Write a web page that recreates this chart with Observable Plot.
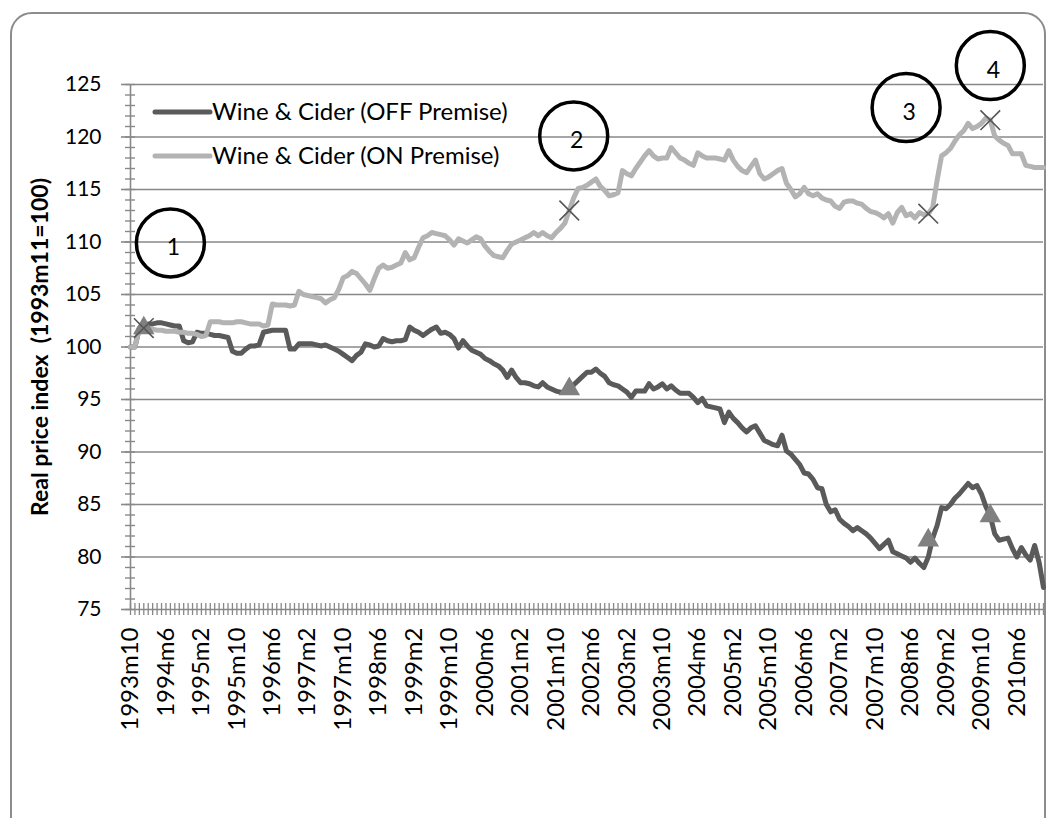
<!DOCTYPE html>
<html>
<head>
<meta charset="utf-8">
<script src="https://cdn.jsdelivr.net/npm/d3@7"></script>
<script src="https://cdn.jsdelivr.net/npm/@observablehq/plot@0.6"></script>
<style>
  html, body { margin: 0; padding: 0; background: #fff; }
  #wrap { position: relative; width: 1053px; height: 818px; overflow: hidden; font-family: Lato, "Open Sans", sans-serif; }
  #frame { position: absolute; left: 10px; top: 12px; width: 1036px; height: 830px; border: 2px solid #8c8c8c; border-radius: 22px; box-sizing: border-box; }
  #legend { position: absolute; left: 150px; top: 96px; }
  #chart { position: absolute; left: 0; top: 0; }
</style>
</head>
<body>
<div id="wrap">
  <div id="frame"></div>
  <div id="chart"></div>
  <svg id="legend" width="420" height="80"></svg>
</div>
<script>
// ---- data ----
const startYear = 1993, startMonth = 10; // first category 1993m10
const seriesNames = ["Wine & Cider (OFF Premise)", "Wine & Cider (ON Premise)"];

const offPremise = [
  100.0,100.0,101.8,101.8,102.2,102.2,102.3,102.3,102.2,102.1,
  102.0,102.0,100.6,100.4,100.5,101.4,101.3,101.3,101.2,101.1,
  101.1,101.0,100.9,99.6,99.4,99.4,99.8,100.1,100.1,100.2,
  101.4,101.5,101.6,101.6,101.6,101.6,99.8,99.8,100.3,100.3,
  100.3,100.3,100.2,100.1,100.2,100.0,99.8,99.6,99.3,99.0,
  98.7,99.2,99.5,100.3,100.2,100.0,100.1,100.8,100.6,100.5,
  100.6,100.6,100.7,101.9,101.6,101.4,101.1,101.4,101.7,101.9,
  101.3,101.4,101.2,100.8,99.9,100.6,100.1,99.7,99.5,99.3,
  98.9,98.7,98.4,98.2,97.8,97.1,97.8,97.1,96.6,96.6,
  96.5,96.3,96.2,96.6,96.2,96.0,95.8,95.7,95.7,95.8,
  96.4,96.8,97.2,97.6,97.6,97.9,97.5,97.2,96.6,96.4,
  96.3,96.0,95.7,95.2,95.8,95.8,95.8,96.5,96.0,96.2,
  96.5,96.0,96.3,95.9,95.6,95.6,95.6,95.2,94.7,95.1,
  94.4,94.3,94.2,94.1,92.8,93.8,93.2,92.8,92.3,91.9,
  92.3,92.5,91.8,91.1,90.9,90.7,90.6,91.6,90.1,89.8,
  89.3,88.8,88.0,87.9,87.4,86.6,86.5,85.0,84.3,84.5,
  83.6,83.2,82.9,82.5,82.8,82.5,82.2,81.8,81.3,80.8,
  81.2,81.6,80.5,80.3,80.1,79.9,79.5,79.9,79.4,79.0,
  80.0,81.8,83.0,84.7,84.6,85.0,85.6,86.0,86.5,87.0,
  86.6,86.8,86.0,84.8,83.9,82.2,81.6,81.7,81.8,80.8,
  80.0,80.9,80.2,79.7,81.1,79.5,77.1
];

const onPremise = [
  100.0,100.0,101.8,101.8,101.7,101.7,101.6,101.6,101.5,101.5,
  101.5,101.4,101.4,101.3,101.3,101.2,101.0,101.1,102.4,102.4,
  102.4,102.3,102.3,102.3,102.4,102.4,102.3,102.2,102.2,102.2,
  102.0,102.1,104.1,104.0,104.0,104.0,103.9,104.0,105.3,105.0,
  104.9,104.8,104.7,104.6,104.2,104.5,104.7,105.5,106.6,106.8,
  107.2,107.0,106.5,106.0,105.4,106.5,107.5,107.8,107.5,107.6,
  107.8,108.0,109.0,108.3,108.5,109.5,110.4,110.6,110.9,110.8,
  110.7,110.6,110.2,109.7,110.3,110.1,109.9,110.2,110.5,110.3,
  109.6,109.1,108.7,108.6,108.5,109.2,109.8,110.0,110.2,110.4,
  110.6,110.9,110.6,110.9,110.6,110.4,110.9,111.3,111.8,113.0,
  114.2,115.1,115.2,115.4,115.7,116.0,115.3,114.9,114.4,114.5,
  114.7,116.8,116.5,116.3,117.0,117.6,118.2,118.7,118.2,117.9,
  118.0,118.0,119.0,118.5,118.0,117.8,117.5,117.3,118.5,118.2,
  118.0,118.0,118.0,117.9,117.8,118.7,117.8,117.2,116.8,116.6,
  117.2,117.8,116.5,116.0,116.2,116.5,116.8,117.0,115.6,115.0,
  114.3,114.6,115.2,114.6,114.4,114.6,114.2,114.0,113.9,113.4,
  113.2,113.8,113.9,113.9,113.7,113.6,113.2,112.9,112.8,112.6,
  112.3,112.7,111.8,112.8,113.3,112.5,112.7,112.3,112.8,112.6,
  112.7,113.3,115.9,118.2,118.5,118.9,119.6,120.2,120.6,121.3,
  120.8,121.0,121.3,121.8,121.6,120.1,119.7,119.4,119.2,118.4,
  118.4,118.4,117.3,117.2,117.1,117.1,117.1
];

// Category labels shown on the x axis
const xTickLabels = ["1993m10","1994m6","1995m2","1995m10","1996m6","1997m2","1997m10","1998m6","1999m2","1999m10",
  "2000m6","2001m2","2001m10","2002m6","2003m2","2003m10","2004m6","2005m2","2005m10","2006m6","2007m2","2007m10",
  "2008m6","2009m2","2009m10","2010m6"];
const yTicks = [75, 80, 85, 90, 95, 100, 105, 110, 115, 120, 125];
const yTitle = "Real price index  (1993m11=100)";

// Highlighted points (markers) and numbered annotations
const markerMonths   = ["1994m1", "2002m1", "2008m10", "2009m12"];
const offMarkerVals  = [101.8, 96.0, 81.6, 83.9];
const onMarkerVals   = [101.8, 113.0, 112.7, 121.6];
const noteLabels     = ["1", "2", "3", "4"];
const noteMonths     = ["1994m7", "2002m2", "2008m5", "2009m12"];
const noteVals       = [109.9, 120.1, 122.8, 126.8];

// ---- build tables ----
const months = offPremise.map((_, i) => {
  const m = startMonth - 1 + i;
  return `${startYear + Math.floor(m / 12)}m${(m % 12) + 1}`;
});
const idx = (lab) => months.indexOf(lab);
const rows = [];
offPremise.forEach((v, i) => rows.push({i, v, s: seriesNames[0]}));
onPremise.forEach((v, i) => rows.push({i, v, s: seriesNames[1]}));
const offMarks = markerMonths.map((m, k) => ({i: idx(m), v: offMarkerVals[k]}));
const onMarks = markerMonths.map((m, k) => ({i: idx(m), v: onMarkerVals[k]}));
const notes = noteLabels.map((t, k) => ({t, i: idx(noteMonths[k]), v: noteVals[k]}));

const darkCol = "#5a5a5a", lightCol = "#b3b3b3", axisCol = "#888888";
const fontFam = "Lato, 'Open Sans', sans-serif";
const minorY = d3.range(75, 126, 1);
const allIdx = d3.range(0, months.length);

const chart = Plot.plot({
  width: 1053,
  height: 818,
  marginLeft: 130,
  marginRight: 10,
  marginTop: 84,
  marginBottom: 209,
  style: {fontFamily: fontFam, fontSize: "21px", color: "#000", background: "transparent", overflow: "visible"},
  x: {type: "linear", domain: [0, months.length - 1]},
  y: {domain: [75, 125]},
  marks: [
    Plot.gridY(yTicks.slice(1), {stroke: axisCol, strokeOpacity: 1, strokeWidth: 1.6}),
    // minor y ticks crossing the axis
    Plot.axisY({ticks: minorY, tickSize: 10, dx: 5, tickFormat: () => "", stroke: axisCol, strokeWidth: 1.4, label: null}),
    // major y ticks + labels
    Plot.axisY({ticks: yTicks, tickSize: 9, tickPadding: 20, tickFormat: d => d, stroke: axisCol, strokeWidth: 1.6, label: null, fontSize: 21, fill: "#000"}),
    // minor x ticks (every month) crossing the axis
    Plot.axisX({ticks: allIdx, tickSize: 12, dy: -6, tickFormat: () => "", stroke: axisCol, strokeWidth: 1.3, label: null}),
    // x labels
    Plot.axisX({ticks: xTickLabels.map(idx), tickSize: 0, tickFormat: i => months[i], tickRotate: -90, tickPadding: 18, label: null, fontSize: 24, fill: "#000"}),
    Plot.ruleY([75], {stroke: axisCol, strokeWidth: 1.6}),
    Plot.ruleX([0], {stroke: axisCol, strokeWidth: 1.6}),
    Plot.line(rows, {x: "i", y: "v", z: "s", stroke: d => d.s === seriesNames[0] ? darkCol : lightCol, strokeWidth: 5, strokeLinejoin: "round", strokeLinecap: "round"}),
    Plot.dot(offMarks, {x: "i", y: "v", symbol: "triangle", r: 8, fill: "#808080", stroke: "none"}),
    Plot.dot(onMarks, {x: "i", y: "v", symbol: "times", r: 9, stroke: "#555", strokeWidth: 1.6, fill: "none"}),
    Plot.dot(notes, {x: "i", y: "v", r: 34, stroke: "#000", strokeWidth: 3.5, fill: "none", clip: false}),
    Plot.text(notes, {x: "i", y: "v", text: "t", dx: 3, dy: 5, fontSize: 23, fill: "#000"}),
    Plot.text([yTitle], {frameAnchor: "left", textAnchor: "middle", rotate: -90, dx: -90, dy: 0, fontWeight: "bold", fontSize: 23, fill: "#000"})
  ]
});
document.getElementById("chart").appendChild(chart);

// legend (inside the plot area, top-left)
const lg = d3.select("#legend");
seriesNames.forEach((name, k) => {
  const y = 16 + k * 44;
  lg.append("line").attr("x1", 5).attr("x2", 60).attr("y1", y).attr("y2", y)
    .attr("stroke", k === 0 ? darkCol : lightCol).attr("stroke-width", 5).attr("stroke-linecap", "round");
  lg.append("text").attr("x", 62).attr("y", y + 8).attr("font-family", fontFam).attr("font-size", 24).attr("fill", "#000").text(name);
});
</script>
</body>
</html>
